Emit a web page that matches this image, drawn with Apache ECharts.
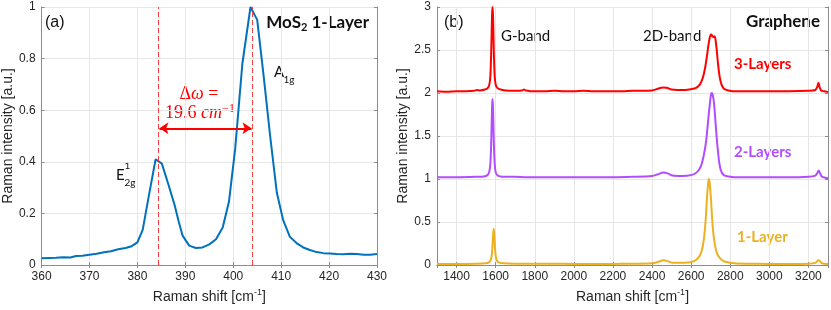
<!DOCTYPE html>
<html><head><meta charset="utf-8">
<script src="https://cdn.jsdelivr.net/npm/echarts@6/dist/echarts.min.js"></script>
<style>html,body{margin:0;padding:0;background:#fff}#c{width:831px;height:310px}</style>
</head><body><div id="c"></div>
<script>
// ---- Panel (a): MoS2 1-layer Raman spectrum ----
const mosX = [360, 361.5, 363, 364.5, 366, 367.2, 368.5, 370, 371.5, 373, 374.5, 376, 377.5, 378.8, 380, 381.1, 382.4, 383.8, 385.1, 386.5, 387.8, 388.6, 389.4, 390.8, 392.2, 393.6, 395, 396.4, 397.8, 399.1, 400.4, 401.9, 403.6, 405.0, 406.3, 407.7, 409.1, 410.4, 411.8, 413.2, 414.6, 416, 417.4, 418.8, 420.2, 421.6, 423, 424.4, 425.8, 427.2, 428.6, 430];
const mosY = [0.026, 0.027, 0.028, 0.03, 0.029, 0.035, 0.036, 0.04, 0.044, 0.049, 0.053, 0.061, 0.066, 0.073, 0.088, 0.136, 0.27, 0.41, 0.393, 0.31, 0.23, 0.17, 0.115, 0.075, 0.066, 0.068, 0.08, 0.1, 0.145, 0.245, 0.45, 0.78, 1.0, 0.95, 0.74, 0.5, 0.28, 0.175, 0.11, 0.085, 0.068, 0.058, 0.05, 0.046, 0.045, 0.043, 0.042, 0.044, 0.043, 0.04, 0.04, 0.043];
const peakLines = [384.4, 404.0];
const arrowSpan = [384.6, 403.8];
const arrowLevel = 0.53;

// ---- Panel (b): Graphene spectra ----
const g3X = [1300, 1350, 1400, 1450, 1490, 1505, 1520, 1545, 1560, 1568, 1573, 1577, 1580, 1582, 1584, 1586, 1588, 1591, 1595, 1600, 1608, 1625, 1650, 1700, 1735, 1745, 1755, 1800, 1850, 1900, 1950, 2000, 2050, 2100, 2150, 2200, 2250, 2300, 2350, 2400, 2430, 2455, 2475, 2500, 2530, 2570, 2600, 2625, 2645, 2660, 2672, 2682, 2690, 2697, 2703, 2709, 2714, 2719, 2724, 2730, 2737, 2745, 2755, 2768, 2790, 2830, 2900, 3000, 3100, 3200, 3235, 3245, 3251, 3257, 3265, 3280, 3300];
const g3Y = [2.02, 2.015, 2.02, 2.02, 2.025, 2.035, 2.03, 2.04, 2.06, 2.1, 2.2, 2.45, 2.75, 2.93, 3.0, 2.93, 2.75, 2.45, 2.2, 2.1, 2.06, 2.04, 2.03, 2.025, 2.03, 2.04, 2.03, 2.02, 2.02, 2.025, 2.02, 2.02, 2.025, 2.02, 2.02, 2.02, 2.02, 2.025, 2.025, 2.03, 2.05, 2.065, 2.06, 2.04, 2.035, 2.035, 2.045, 2.06, 2.1, 2.18, 2.3, 2.45, 2.58, 2.66, 2.68, 2.66, 2.65, 2.66, 2.63, 2.52, 2.35, 2.2, 2.1, 2.05, 2.03, 2.02, 2.02, 2.02, 2.02, 2.025, 2.035, 2.07, 2.12, 2.07, 2.03, 2.02, 2.01];
const g2X = [1300, 1400, 1500, 1540, 1558, 1567, 1573, 1577, 1580, 1582, 1584, 1586, 1588, 1591, 1595, 1600, 1609, 1625, 1700, 1800, 1900, 2000, 2100, 2200, 2300, 2400, 2430, 2458, 2480, 2505, 2550, 2600, 2630, 2650, 2665, 2677, 2687, 2696, 2704, 2710, 2717, 2725, 2733, 2742, 2752, 2765, 2790, 2850, 2950, 3050, 3150, 3200, 3235, 3245, 3252, 3259, 3268, 3285, 3300];
const g2Y = [1.02, 1.02, 1.025, 1.03, 1.045, 1.08, 1.18, 1.4, 1.68, 1.86, 1.93, 1.86, 1.68, 1.4, 1.18, 1.08, 1.045, 1.03, 1.025, 1.02, 1.02, 1.02, 1.02, 1.02, 1.025, 1.035, 1.055, 1.075, 1.065, 1.04, 1.035, 1.045, 1.08, 1.15, 1.28, 1.45, 1.68, 1.88, 2.0, 1.98, 1.88, 1.65, 1.42, 1.22, 1.1, 1.05, 1.03, 1.02, 1.02, 1.02, 1.02, 1.025, 1.04, 1.07, 1.1, 1.07, 1.03, 1.015, 1.01];
const g1X = [1300, 1400, 1500, 1550, 1565, 1575, 1581, 1585, 1588, 1590, 1592, 1595, 1599, 1605, 1615, 1640, 1700, 1800, 1900, 2000, 2100, 2200, 2300, 2400, 2430, 2458, 2480, 2505, 2560, 2610, 2635, 2652, 2665, 2674, 2681, 2687, 2691, 2695, 2701, 2708, 2717, 2730, 2747, 2770, 2820, 2900, 3000, 3100, 3200, 3235, 3245, 3252, 3259, 3268, 3300];
const g1Y = [0.012, 0.012, 0.015, 0.02, 0.03, 0.06, 0.13, 0.27, 0.38, 0.42, 0.38, 0.27, 0.13, 0.06, 0.03, 0.02, 0.015, 0.014, 0.014, 0.013, 0.013, 0.013, 0.015, 0.02, 0.035, 0.055, 0.045, 0.025, 0.025, 0.04, 0.08, 0.15, 0.3, 0.52, 0.78, 0.95, 1.0, 0.95, 0.78, 0.52, 0.3, 0.15, 0.08, 0.04, 0.02, 0.015, 0.013, 0.013, 0.015, 0.025, 0.045, 0.055, 0.045, 0.02, 0.012];

const seriesNames = ['3-Layers', '2-Layers', '1-Layer'];
const seriesColors = ['#ff0000', '#b24dff', '#edb120'];

const pairs = (xs, ys) => xs.map((x, i) => [x, ys[i]]);

const axisColor = '#8c8c8c';
const gridColor = '#e6e6e6';
const txt = '#262626';
const sans = 'Liberation Sans';
const nameRich = {
  a: {fontSize: 14, lineHeight: 18, color: txt, fontFamily: sans},
  s: {fontSize: 9, lineHeight: 9, color: txt, fontFamily: sans, verticalAlign: 'top'}
};
const plainFmt = v => String(Math.round(v * 1000) / 1000);

function bottomX(gi, min, max, extra) {
  return Object.assign({
    type: 'value', gridIndex: gi, min: min, max: max, position: 'bottom',
    axisLine: {show: true, lineStyle: {color: axisColor, width: 1}},
    axisTick: {show: true, inside: true, length: 3, lineStyle: {color: axisColor}},
    axisLabel: {color: txt, fontFamily: sans, fontSize: 12, margin: 6, formatter: plainFmt},
    splitLine: {show: true, lineStyle: {color: gridColor, width: 1}},
    name: '{a|Raman shift [cm}{s|-1}{a|]}', nameLocation: 'middle', nameGap: 20,
    nameTextStyle: {rich: nameRich}
  }, extra);
}
function topX(gi, min, max, extra) {
  return Object.assign({
    type: 'value', gridIndex: gi, min: min, max: max, position: 'top',
    axisLine: {show: true, lineStyle: {color: axisColor, width: 1}},
    axisTick: {show: true, inside: true, length: 3, lineStyle: {color: axisColor}},
    axisLabel: {show: false}, splitLine: {show: false}
  }, extra);
}
function leftY(gi, min, max, interval) {
  return {
    type: 'value', gridIndex: gi, min: min, max: max, interval: interval, position: 'left',
    axisLine: {show: true, lineStyle: {color: axisColor, width: 1}},
    axisTick: {show: true, inside: true, length: 3, lineStyle: {color: axisColor}},
    axisLabel: {color: txt, fontFamily: sans, fontSize: 12, margin: 6, formatter: plainFmt},
    splitLine: {show: true, lineStyle: {color: gridColor, width: 1}},
    name: 'Raman intensity [a.u.]', nameLocation: 'middle', nameGap: 24, nameRotate: 90,
    nameTextStyle: {color: txt, fontFamily: sans, fontSize: 14}
  };
}
function rightY(gi, min, max, interval) {
  return {
    type: 'value', gridIndex: gi, min: min, max: max, interval: interval, position: 'right',
    axisLine: {show: true, lineStyle: {color: axisColor, width: 1}},
    axisTick: {show: true, inside: true, length: 3, lineStyle: {color: axisColor}},
    axisLabel: {show: false}, splitLine: {show: false}
  };
}

const chart = echarts.init(document.getElementById('c'), null, {renderer: 'canvas'});

const lato = 'Lato';
const textEls = [
  {type: 'text', x: 45, y: 23, style: {text: '(a)', fill: '#111', fontSize: 16, fontFamily: sans, align: 'left', verticalAlign: 'middle'}},
  {type: 'text', x: 369, y: 23, style: {
    text: '{b|MoS}{s|2}{b| 1-Layer}', align: 'right', verticalAlign: 'middle',
    rich: {b: {fontSize: 17, fontWeight: 'bold', fontFamily: lato, fill: '#111', lineHeight: 20},
           s: {fontSize: 11, fontWeight: 'bold', fontFamily: lato, fill: '#111', lineHeight: 11, verticalAlign: 'bottom'}}}},
  {type: 'text', x: 274, y: 72, style: {text: 'A', fill: '#111', fontSize: 15, fontFamily: lato, align: 'left', verticalAlign: 'middle'}},
  {type: 'text', x: 283.5, y: 80, style: {text: '1g', fill: '#111', fontSize: 10, fontFamily: lato, align: 'left', verticalAlign: 'middle'}},
  {type: 'text', x: 116, y: 175, style: {text: 'E', fill: '#111', fontSize: 15, fontFamily: lato, align: 'left', verticalAlign: 'middle'}},
  {type: 'text', x: 124.5, y: 166, style: {text: '1', fill: '#111', fontSize: 10, fontFamily: lato, align: 'left', verticalAlign: 'middle'}},
  {type: 'text', x: 124.5, y: 183, style: {text: '2g', fill: '#111', fontSize: 10, fontFamily: lato, align: 'left', verticalAlign: 'middle'}},
  {type: 'text', x: 199, y: 94, style: {
    text: '{u|Δ}{i|ω}{u| =}', align: 'center', verticalAlign: 'middle',
    rich: {u: {fontSize: 18, fontFamily: 'Liberation Serif', fill: '#ff0000'},
           i: {fontSize: 18, fontFamily: 'Liberation Serif', fontStyle: 'italic', fill: '#ff0000'}}}},
  {type: 'text', x: 200, y: 113, style: {
    text: '{u|19.6 }{i|cm}{s|−1}', align: 'center', verticalAlign: 'middle',
    rich: {u: {fontSize: 18, fontFamily: 'Liberation Serif', fill: '#ff0000', lineHeight: 20},
           i: {fontSize: 18, fontFamily: 'Liberation Serif', fontStyle: 'italic', fill: '#ff0000', lineHeight: 20},
           s: {fontSize: 12, fontFamily: 'Liberation Serif', fill: '#ff0000', lineHeight: 12, verticalAlign: 'top'}}}},
  {type: 'text', x: 444, y: 23, style: {text: '(b)', fill: '#111', fontSize: 16, fontFamily: sans, align: 'left', verticalAlign: 'middle'}},
  {type: 'text', x: 820, y: 22, style: {text: 'Graphene', fill: '#111', fontSize: 17, fontWeight: 'bold', fontFamily: lato, align: 'right', verticalAlign: 'middle'}},
  {type: 'text', x: 501, y: 36, style: {text: 'G-band', fill: '#111', fontSize: 15, fontFamily: lato, align: 'left', verticalAlign: 'middle'}},
  {type: 'text', x: 643, y: 36, style: {text: '2D-band', fill: '#111', fontSize: 15, fontFamily: lato, align: 'left', verticalAlign: 'middle'}},
  {type: 'text', x: 734, y: 64, style: {text: seriesNames[0], fill: seriesColors[0], fontSize: 15, fontWeight: 'bold', fontFamily: lato, align: 'left', verticalAlign: 'middle'}},
  {type: 'text', x: 734, y: 152, style: {text: seriesNames[1], fill: seriesColors[1], fontSize: 15, fontWeight: 'bold', fontFamily: lato, align: 'left', verticalAlign: 'middle'}},
  {type: 'text', x: 737, y: 237, style: {text: seriesNames[2], fill: seriesColors[2], fontSize: 15, fontWeight: 'bold', fontFamily: lato, align: 'left', verticalAlign: 'middle'}}
];

const option = {
  animation: false,
  backgroundColor: '#fff',
  grid: [
    {left: 41, right: 454, top: 7, bottom: 45, show: false},
    {left: 437, right: 3, top: 7, bottom: 45, show: false}
  ],
  xAxis: [
    bottomX(0, 360, 430, {interval: 10}),
    topX(0, 360, 430, {interval: 10}),
    bottomX(1, 1300, 3300, {splitNumber: 10, axisLabel: {color: txt, fontFamily: sans, fontSize: 12, margin: 6, showMinLabel: false, showMaxLabel: false, formatter: plainFmt}}),
    topX(1, 1300, 3300, {splitNumber: 10})
  ],
  yAxis: [
    leftY(0, 0, 1, 0.2),
    rightY(0, 0, 1, 0.2),
    leftY(1, 0, 3, 0.5),
    rightY(1, 0, 3, 0.5)
  ],
  series: [
    {
      type: 'line', xAxisIndex: 0, yAxisIndex: 0, data: pairs(mosX, mosY),
      showSymbol: false, lineStyle: {color: '#0072bd', width: 2}, z: 3,
      markLine: {
        silent: true, symbol: 'none', label: {show: false},
        lineStyle: {color: '#ff4040', type: [5, 3], width: 1},
        data: peakLines.map(v => ({xAxis: v}))
      }
    },
    {
      type: 'line', xAxisIndex: 0, yAxisIndex: 0, data: [],
      markLine: {
        silent: true, symbol: ['arrow', 'arrow'], symbolSize: 9, label: {show: false},
        lineStyle: {color: '#ff0000', type: 'solid', width: 2},
        data: [[{coord: [arrowSpan[0], arrowLevel]}, {coord: [arrowSpan[1], arrowLevel]}]]
      }
    },
    {type: 'line', name: seriesNames[0], xAxisIndex: 2, yAxisIndex: 2, data: pairs(g3X, g3Y), showSymbol: false, smooth: 0.3, lineStyle: {color: seriesColors[0], width: 2}},
    {type: 'line', name: seriesNames[1], xAxisIndex: 2, yAxisIndex: 2, data: pairs(g2X, g2Y), showSymbol: false, smooth: 0.3, lineStyle: {color: seriesColors[1], width: 2}},
    {type: 'line', name: seriesNames[2], xAxisIndex: 2, yAxisIndex: 2, data: pairs(g1X, g1Y), showSymbol: false, smooth: 0.3, lineStyle: {color: seriesColors[2], width: 2}}
  ],
  graphic: textEls
};
chart.setOption(option);
</script>
</body></html>
